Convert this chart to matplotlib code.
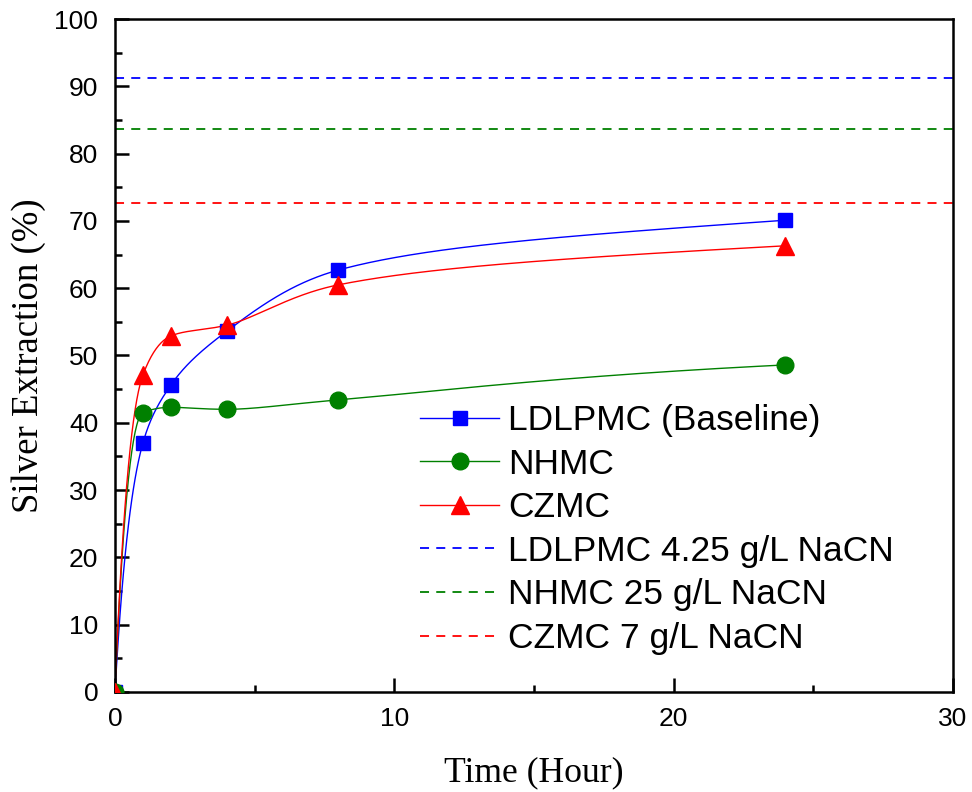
import numpy as np
import matplotlib
matplotlib.use("Agg")
import matplotlib.pyplot as plt
from matplotlib.ticker import MultipleLocator

# Leaching time (hours) and silver extraction (%)
time_h = [0, 1, 2, 4, 8, 24]
ldlpmc = [0, 37.0, 45.6, 53.6, 62.7, 70.1]
nhmc = [0, 41.5, 42.3, 42.0, 43.4, 48.6]
czmc = [0, 47.1, 52.9, 54.5, 60.5, 66.3]

# Extraction reached at the reference cyanide strength
ref_labels = ["LDLPMC 4.25 g/L NaCN", "NHMC 25 g/L NaCN", "CZMC 7 g/L NaCN"]
ref_levels = [91.2, 83.7, 72.7]

series_labels = ["LDLPMC (Baseline)", "NHMC", "CZMC"]


def pchip(x, y, xs):
    """Shape-preserving cubic Hermite curve through the given points."""
    x = np.asarray(x, float)
    y = np.asarray(y, float)
    h = np.diff(x)
    d = np.diff(y) / h
    n = len(x)
    m = np.zeros(n)
    for k in range(1, n - 1):
        if d[k - 1] * d[k] <= 0:
            m[k] = 0.0
        else:
            w1 = 2 * h[k] + h[k - 1]
            w2 = h[k] + 2 * h[k - 1]
            m[k] = (w1 + w2) / (w1 / d[k - 1] + w2 / d[k])
    m[0] = ((2 * h[0] + h[1]) * d[0] - h[0] * d[1]) / (h[0] + h[1])
    if np.sign(m[0]) != np.sign(d[0]):
        m[0] = 0.0
    # keep the last segment rising at its chord slope
    m[-1] = d[-1]
    idx = np.clip(np.searchsorted(x, xs) - 1, 0, n - 2)
    t = (xs - x[idx]) / h[idx]
    h00 = 2 * t**3 - 3 * t**2 + 1
    h10 = t**3 - 2 * t**2 + t
    h01 = -2 * t**3 + 3 * t**2
    h11 = t**3 - t**2
    return (h00 * y[idx] + h10 * h[idx] * m[idx]
            + h01 * y[idx + 1] + h11 * h[idx] * m[idx + 1])


def smooth_curve(x, y, xs):
    """Smooth connecting curve, built on a log-time axis."""
    u = np.log1p(np.asarray(x, float))
    return pchip(u, y, np.log1p(xs))


fig = plt.figure(figsize=(9.72, 7.92), dpi=100)
ax = fig.add_axes([0.1183, 0.1263, 0.8622, 0.8497])

xs = np.linspace(0, 24, 800)
styles = [
    (ldlpmc, "#0000ff", "s", 10),
    (nhmc, "#008000", "o", 12),
    (czmc, "#ff0000", "^", 13.5),
]
handles = []
for (vals, col, mk, ms), lab in zip(styles, series_labels):
    ax.plot(xs, smooth_curve(time_h, vals, xs), color=col, lw=1.0, zorder=2)
    ax.plot(time_h, vals, linestyle="none", marker=mk, ms=ms,
            color=col, zorder=3)
    h, = ax.plot([], [], color=col, lw=1.0, marker=mk, ms=ms,
                 label=lab)
    handles.append(h)

for lvl, col, lab in zip(ref_levels, ["#0000ff", "#008000", "#ff0000"],
                         ref_labels):
    h = ax.axhline(lvl, color=col, lw=1.3, ls=(0, (5, 4)), label=lab,
                   zorder=1)
    handles.append(h)

ax.set_xlim(0, 30)
ax.set_ylim(0, 100)
ax.xaxis.set_major_locator(MultipleLocator(10))
ax.xaxis.set_minor_locator(MultipleLocator(5))
ax.yaxis.set_major_locator(MultipleLocator(10))
ax.yaxis.set_minor_locator(MultipleLocator(5))
ax.tick_params(which="both", direction="in", top=False, right=False,
               width=1.8, labelsize=19, labelfontfamily="Liberation Sans")
ax.tick_params(axis="x", pad=11)
ax.tick_params(axis="y", pad=12)
ax.tick_params(which="major", length=10)
ax.tick_params(which="minor", length=5)
for sp in ax.spines.values():
    sp.set_linewidth(1.8)

ax.set_xlabel("Time (Hour)", fontfamily="Liberation Serif", fontsize=25.7,
              labelpad=18)
ax.set_ylabel("Silver Extraction (%)", fontfamily="Liberation Serif",
              fontsize=26.5, labelpad=6)

leg = ax.legend(handles=handles, loc="upper left",
                bbox_to_anchor=(0.364, 0.428), frameon=False,
                prop={"family": "Liberation Sans", "size": 25.5},
                handlelength=2.23, handletextpad=0.25, labelspacing=0.3,
                borderaxespad=0, borderpad=0)

fig.savefig("out.png", dpi=100)
